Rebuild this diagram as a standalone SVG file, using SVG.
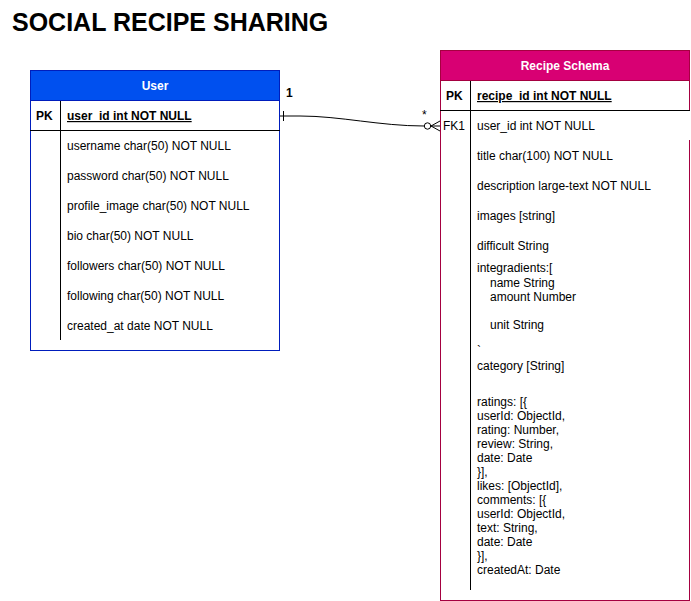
<svg xmlns="http://www.w3.org/2000/svg" width="691" height="601" viewBox="0 0 691 601">
<style>
text{font-family:"Liberation Sans",Arial,sans-serif;font-size:12px;fill:#000}
.hdr{font-weight:bold;fill:#fff;text-anchor:middle}
.b{font-weight:bold}
.u{font-weight:bold;text-decoration:underline}
.ln{fill:none;stroke:#000;stroke-width:1}
</style>
<rect width="691" height="601" fill="#fff"/>
<text x="12" y="31" style="font-size:25px;font-weight:bold">SOCIAL RECIPE SHARING</text>

<g id="user">
<rect x="30.5" y="70.5" width="249" height="280" fill="#fff" stroke="#001DBC"/>
<rect x="30.5" y="70.5" width="249" height="30" fill="#0050ef" stroke="#001DBC"/>
<text class="hdr" x="155" y="90">User</text>
<line class="ln" x1="30" y1="130.5" x2="280" y2="130.5"/>
<line class="ln" x1="60.5" y1="101" x2="60.5" y2="340"/>
<text class="b" x="36" y="120">PK</text>
<text class="u" x="67" y="120">user_id int NOT NULL</text>
<text x="67" y="150">username char(50) NOT NULL</text>
<text x="67" y="180">password char(50) NOT NULL</text>
<text x="67" y="210">profile_image char(50) NOT NULL</text>
<text x="67" y="240">bio char(50) NOT NULL</text>
<text x="67" y="270">followers char(50) NOT NULL</text>
<text x="67" y="300">following char(50) NOT NULL</text>
<text x="67" y="330">created_at date NOT NULL</text>
</g>

<g id="recipe">
<rect x="440.5" y="50.5" width="249" height="550" fill="#fff" stroke="#A50040"/>
<rect x="440.5" y="50.5" width="249" height="30" fill="#d80073" stroke="#A50040"/>
<text class="hdr" x="565" y="70">Recipe Schema</text>
<line class="ln" x1="440" y1="110.5" x2="690" y2="110.5"/>
<rect x="441" y="111" width="250" height="29" fill="#fff"/>
<line class="ln" x1="470.5" y1="81" x2="470.5" y2="590"/>
<text class="b" x="446" y="100">PK</text>
<text class="u" x="477" y="100">recipe_id int NOT NULL</text>
<text x="443" y="130">FK1</text>
<text x="477" y="130">user_id int NOT NULL</text>
<text x="477" y="160">title char(100) NOT NULL</text>
<text x="477" y="190">description large-text NOT NULL</text>
<text x="477" y="220">images [string]</text>
<text x="477" y="250">difficult String</text>
<text x="477" y="272">integradients:[</text>
<text x="490" y="287">name String</text>
<text x="490" y="301">amount Number</text>
<text x="490" y="329">unit String</text>
<text x="477" y="355">`</text>
<text x="477" y="370">category [String]</text>
<text x="477" y="406">ratings: [{</text>
<text x="477" y="420">userId: ObjectId,</text>
<text x="477" y="434">rating: Number,</text>
<text x="477" y="448">review: String,</text>
<text x="477" y="462">date: Date</text>
<text x="477" y="476">}],</text>
<text x="477" y="490">likes: [ObjectId],</text>
<text x="477" y="504">comments: [{</text>
<text x="477" y="518">userId: ObjectId,</text>
<text x="477" y="532">text: String,</text>
<text x="477" y="546">date: Date</text>
<text x="477" y="560">}],</text>
<text x="477" y="574">createdAt: Date</text>
</g>

<g id="connectors">
<path class="ln" d="M280 116 L300 116 C340 116 380 126 424 126"/>
<line class="ln" x1="283.5" y1="111" x2="283.5" y2="121"/>
<circle cx="427.5" cy="126" r="3.2" fill="#fff" stroke="#000"/>
<path class="ln" d="M431 126 L440 126 M440 121 L431 126 L440 131"/>
<text class="b" x="286" y="97">1</text>
<text x="422" y="119">*</text>
</g>
</svg>
